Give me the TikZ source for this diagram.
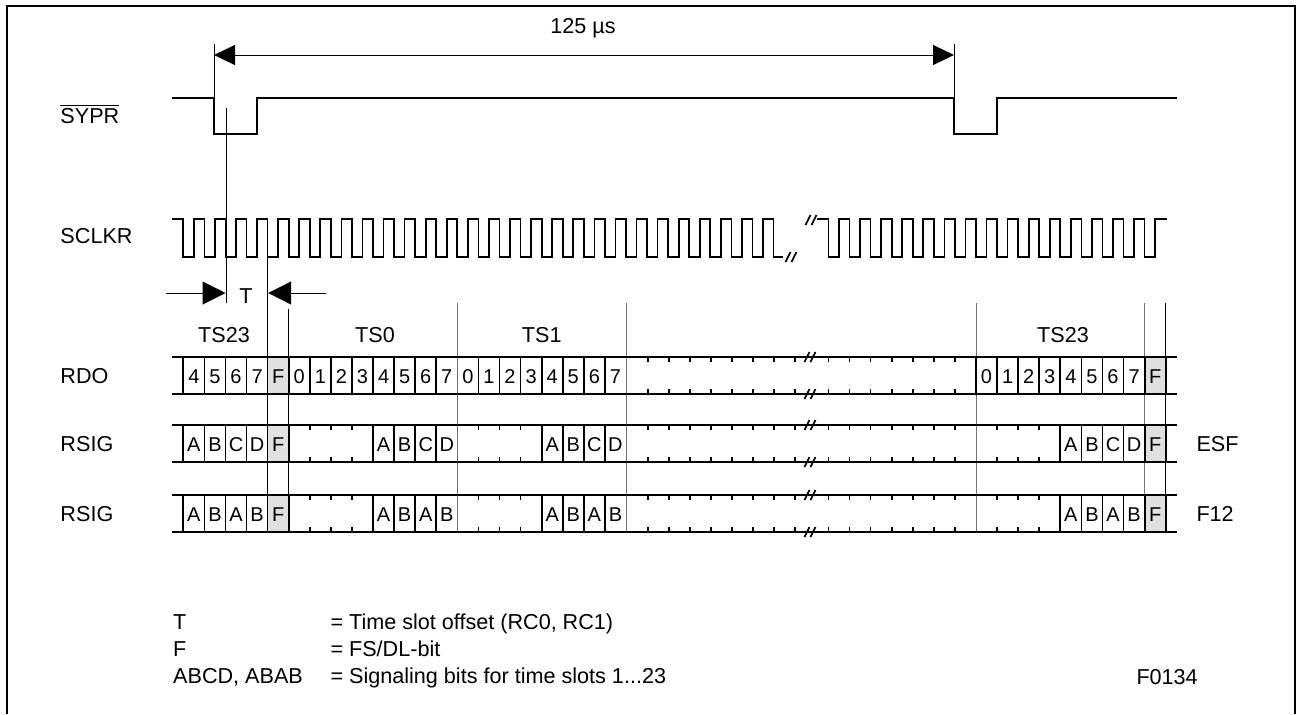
\documentclass[tikz,border=0pt]{standalone}
\usepackage{fontspec}
\setmainfont{Liberation Sans}
\usetikzlibrary{arrows.meta}
\tikzset{
  every picture/.style={line width=0.5pt},
  sig/.style={line width=0.85pt},
  rowline/.style={line width=0.85pt},
  guide/.style={line width=0.5pt,black!55},
  thinline/.style={line width=0.5pt},
  lbl/.style={font=\fontsize{10.8}{12}\selectfont,inner sep=0pt,anchor=base west},
  bit/.style={font=\fontsize{10}{11}\selectfont,inner sep=0pt,anchor=base},
  fcell/.style={fill=black!12},
  brkline/.style={line width=0.85pt},
  tip/.style={-{Triangle[length=11.5pt,width=11.5pt]}},
}
% break mark: two slanted strokes
\newcommand{\brkmark}[2]{
  \draw[brkline] (#1-5.5,#2+5) -- (#1-0.5,#2-5) (#1+0.5,#2+5) -- (#1+5.5,#2-5);}
% one bit row: both rails, ticks of the skipped slots, break
\newcommand{\bitrow}[1]{
  \draw[rowline] (171.7,#1) -- (1177,#1) (171.7,#1+37) -- (1177,#1+37);
  \foreach \k in {1,...,8}
    \draw[rowline] ({626.7+21.08*\k},#1) -- ++(0,5) ({626.7+21.08*\k},#1+37) -- ++(0,-5);
  \foreach \k in {1,...,7}
    \draw[rowline] ({976-21.08*\k},#1) -- ++(0,5) ({976-21.08*\k},#1+37) -- ++(0,-5);
  \brkmark{810}{#1}  \brkmark{810}{#1+37}}

\begin{document}
\begin{tikzpicture}[x=0.5pt,y=-0.5pt]
\useasboundingbox (0,0) rectangle (1296,714);
% frame
\draw[line width=1pt] (7,714) -- (7,6) -- (1295,6) -- (1295,714);
% frame period
\draw[thinline] (214,44) -- (214,98) (954,44) -- (954,98);
\draw[thinline,{Triangle[length=10.5pt,width=10pt]}-{Triangle[length=10.5pt,width=10pt]}] (214,55) -- (954,55);
\node[lbl,anchor=base] (per) at (583,33) {125 µs};
% SYPR
\node[lbl] (sypr) at (60,123) {$\overline{\mbox{SYPR}}$};
\draw[sig] (171.7,98) -- (214,98) -- (214,134) -- (256.7,134) -- (256.7,98) -- (954,98)
  -- (954,134) -- (996.7,134) -- (996.7,98) -- (1177,98);
% SCLKR
\node[lbl] (sclkr) at (60,243) {SCLKR};
\draw[sig] (171.7,219) foreach \k in {0,...,27}{ -- ({183.3+21.08*\k},219) -- ({183.3+21.08*\k},257)
  -- ({193.84+21.08*\k},257) -- ({193.84+21.08*\k},219)} -- (773.6,219) -- (773.6,257) -- (783,257);
\brkmark{791}{257}
\draw[sig] (817,219) foreach \k in {16,...,1}{ -- ({1165.7-21.08*\k},219) -- ({1165.7-21.08*\k},257)
  -- ({1176.24-21.08*\k},257) -- ({1176.24-21.08*\k},219)} -- (1167,219);
\brkmark{811}{220}
% offset T
\draw[thinline] (226,108) -- (226,303);
\draw[thinline,tip] (166,293) -- (225.5,293);
\draw[thinline,tip] (326,293) -- (268.2,293);
\node[lbl,anchor=base] (tlbl) at (246,303) {T};
% slot guides
\draw[thinline] (267.6,257) -- (267.6,532) (288.7,309) -- (288.7,532) (1165.7,303) -- (1165.7,532);
\foreach \x in {457.7,626.7,976,1144.6} \draw[guide] (\x,303) -- (\x,532);
\node[lbl,anchor=base] (ts23a) at (224,342) {TS23};
\node[lbl,anchor=base] (ts0) at (375,342) {TS0};
\node[lbl,anchor=base] (ts1) at (541.7,342) {TS1};
\node[lbl,anchor=base] (ts23b) at (1063,342) {TS23};
% F cells
\foreach \y in {357,425,495}{
  \fill[fcell] (267.6,\y) rectangle (288.7,\y+37);
  \fill[fcell] (1144.6,\y) rectangle (1165.7,\y+37);}
% RDO
\node[lbl] (rdo) at (60,383) {RDO};
\bitrow{357}
\foreach \k in {0,1,2,3,4,5,6,7,8,9,10,11,12,14,15,16,17,18,19,20}
  \draw[rowline] ({183.3+21.08*\k},357) -- ++(0,37);
\foreach \k in {0,...,9} \draw[rowline] ({976+21.08*\k},357) -- ++(0,37);
\foreach \t [count=\k from 0] in {4,5,6,7,F,0,1,2,3,4,5,6,7,0,1,2,3,4,5,6,7}
  \node[bit] (rdoL\k) at ({193.84+21.08*\k},383) {\t};
\foreach \t [count=\k from 0] in {0,1,2,3,4,5,6,7,F}
  \node[bit] (rdoR\k) at ({986.54+21.08*\k},383) {\t};
% RSIG, ESF and F12
\node[lbl] (rsigE) at (60,451) {RSIG};
\node[lbl] (esf) at (1196,451) {ESF};
\node[lbl] (rsigF) at (60,521) {RSIG};
\node[lbl] (f12) at (1196,521) {F12};
\foreach \y/\s/\n in {425/{A,B,C,D}/E,495/{A,B,A,B}/F}{
  \bitrow{\y}
  \foreach \k in {0,1,2,3,4,5,9,10,11,12,17,18,19,20}
    \draw[rowline] ({183.3+21.08*\k},\y) -- ++(0,37);
  \foreach \k in {6,7,8,14,15,16}
    \draw[rowline] ({183.3+21.08*\k},\y) -- ++(0,5) ({183.3+21.08*\k},\y+37) -- ++(0,-5);
  \foreach \k in {1,2,3}
    \draw[rowline] ({976+21.08*\k},\y) -- ++(0,5) ({976+21.08*\k},\y+37) -- ++(0,-5);
  \foreach \k in {4,...,9} \draw[rowline] ({976+21.08*\k},\y) -- ++(0,37);
  \foreach \x [count=\g] in {183.3,373.02,541.66,1060.32}
    \foreach \t [count=\j from 0] in \s
      \node[bit] (sig\n\g-\j) at ({\x+10.54+21.08*\j},\y+26) {\t};
  \node[bit] (sig\n-f) at (278.15,\y+26) {F};
  \node[bit] (sig\n-g) at (1155.15,\y+26) {F};
}
% key
\node[lbl] (keyT) at (172.7,629.5) {T};
\node[lbl] (keyF) at (172.7,656) {F};
\node[lbl] (keyS) at (172.7,683) {ABCD, ABAB};
\node[lbl] (valT) at (330,629.5) {= Time slot offset (RC0, RC1)};
\node[lbl] (valF) at (330,656) {= FS/DL-bit};
\node[lbl] (valS) at (330,683) {= Signaling bits for time slots 1...23};
\node[lbl] (fig) at (1136,684) {F0134};
\end{tikzpicture}
\end{document}
